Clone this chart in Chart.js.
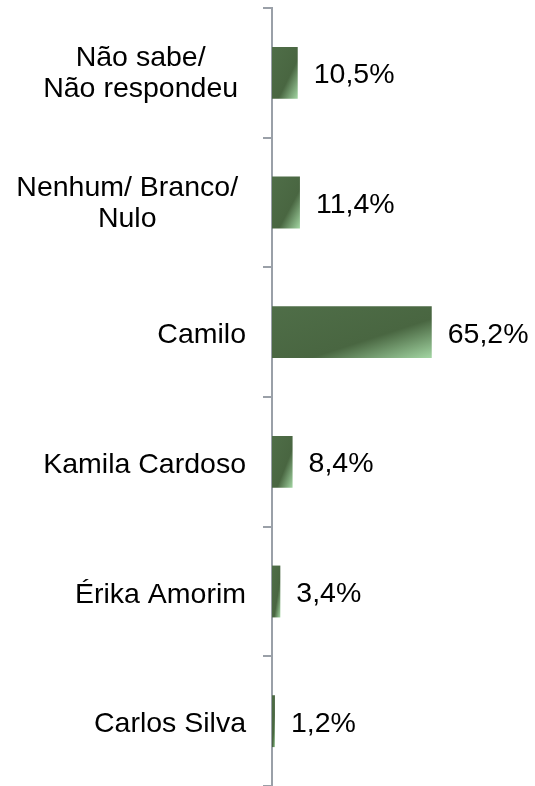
<!DOCTYPE html>
<html>
<head>
<meta charset="utf-8">
<script src="https://cdn.jsdelivr.net/npm/chart.js@4/dist/chart.umd.min.js"></script>
<style>
  html, body { margin: 0; padding: 0; background: #fff; }
  #wrap { width: 535px; height: 786px; }
</style>
</head>
<body>
<div id="wrap"><canvas id="chart"></canvas></div>
<script>
// Data
const categories = [
    ['Não sabe/', 'Não respondeu'],
    ['Nenhum/ Branco/', 'Nulo'],
    ['Camilo'],
    ['Kamila Cardoso'],
    ['Érika Amorim'],
    ['Carlos Silva']
];
const values = [10.5, 11.4, 65.2, 8.4, 3.4, 1.2];

const FONT = '"Liberation Sans", Arial, sans-serif';
const FONT_SIZE = 28.5;
const AXIS_X = 272;
const DARK = '#4b6843';

// Format like "10,5%"
const formatPct = (v) => v.toFixed(1).replace('.', ',') + '%';

// Diagonal gradient per bar: dark green, light in the bottom-right corner
function barGradient(context) {
    const chart = context.chart;
    const xs = chart.scales.x;
    const ys = chart.scales.y;
    if (!xs || !ys || context.dataIndex === undefined) return DARK;
    const i = context.dataIndex;
    const x0 = xs.getPixelForValue(0);
    const x1 = xs.getPixelForValue(values[i]);
    const band = ys.height / categories.length;
    const h = band * 0.4;
    const y0 = ys.getPixelForValue(i) - h / 2;
    const w = Math.max(1, x1 - x0);
    const k = 2 * w * h / (w * w + h * h);
    const pts = [x0, y0, x0 + h * k, y0 + w * k];
    if (!pts.every(Number.isFinite) || h <= 0) return DARK;
    const g = chart.ctx.createLinearGradient(...pts);
    g.addColorStop(0, '#4f6e48');
    g.addColorStop(0.62, '#496641');
    g.addColorStop(1, '#a3d6a3');
    return g;
}

// Category labels: block right-aligned, lines centered inside it
const categoryLabels = {
    id: 'categoryLabels',
    afterDraw(chart) {
        const ctx = chart.ctx;
        const ys = chart.scales.y;
        const right = AXIS_X - 26;
        const lineH = 31;
        ctx.save();
        ctx.font = FONT_SIZE + 'px ' + FONT;
        ctx.fillStyle = '#000';
        ctx.textAlign = 'center';
        ctx.textBaseline = 'alphabetic';
        categories.forEach((lines, i) => {
            const c = ys.getPixelForValue(i);
            const widths = lines.map(l => ctx.measureText(l).width);
            const blockW = Math.max(...widths);
            const blockRight = lines.length > 1 ? right - ctx.measureText(' ').width : right;
            const cx = blockRight - blockW / 2;
            const mid = c + 9 + (lines.length > 1 ? 0 : 2);
            lines.forEach((l, j) => {
                const y = mid + (j - (lines.length - 1) / 2) * lineH;
                ctx.fillText(l, cx, y);
            });
        });
        ctx.restore();
    }
};

// Value labels to the right of each bar
const valueLabels = {
    id: 'valueLabels',
    afterDatasetsDraw(chart) {
        const ctx = chart.ctx;
        const meta = chart.getDatasetMeta(0);
        ctx.save();
        ctx.font = FONT_SIZE + 'px ' + FONT;
        ctx.fillStyle = '#000';
        ctx.textAlign = 'left';
        ctx.textBaseline = 'alphabetic';
        meta.data.forEach((bar, i) => {
            ctx.fillText(formatPct(values[i]), bar.x + 16, bar.y + 10.5);
        });
        ctx.restore();
    }
};

new Chart(document.getElementById('chart'), {
    type: 'bar',
    data: {
        labels: categories,
        datasets: [{
            data: values,
            backgroundColor: barGradient,
            borderWidth: 0,
            barPercentage: 0.4,
            categoryPercentage: 1
        }]
    },
    options: {
        indexAxis: 'y',
        responsive: true,
        maintainAspectRatio: false,
        animation: false,
        layout: { padding: { top: 8, right: 18, bottom: 0, left: 0 } },
        plugins: {
            legend: { display: false },
            tooltip: { enabled: false }
        },
        scales: {
            x: {
                display: false,
                min: 0,
                max: 100
            },
            y: {
                offset: true,
                afterFit: (scale) => { scale.width = AXIS_X; },
                border: { display: true, color: '#9aa0a8', width: 2 },
                grid: {
                    display: true,
                    offset: true,
                    drawOnChartArea: false,
                    drawTicks: true,
                    tickLength: 9,
                    color: '#9aa0a8',
                    lineWidth: 2
                },
                ticks: { display: false }
            }
        }
    },
    plugins: [categoryLabels, valueLabels]
});
</script>
</body>
</html>
